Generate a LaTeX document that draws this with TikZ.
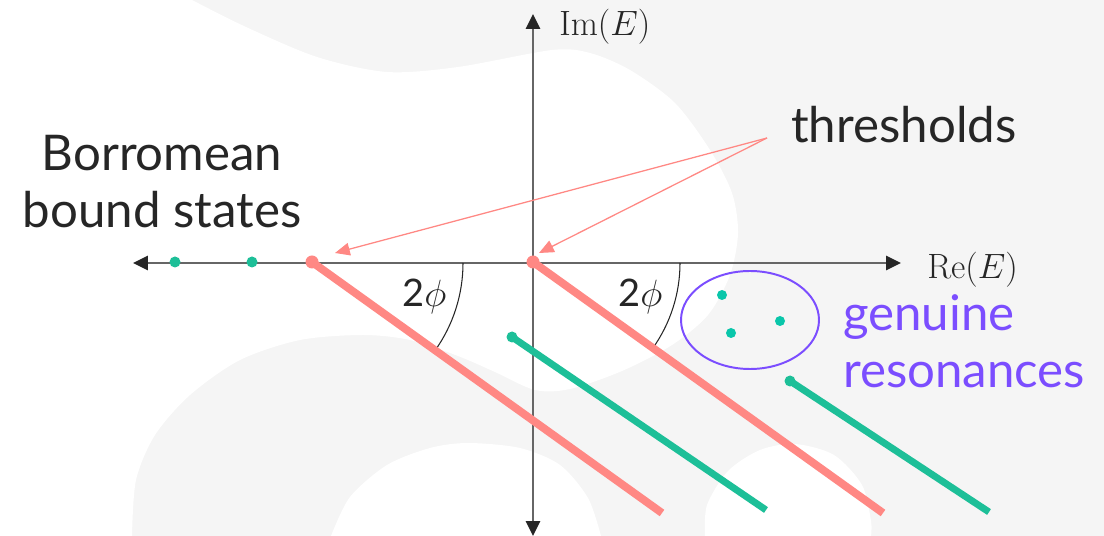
\documentclass[tikz,border=0pt]{standalone}
\usepackage{fix-cm}
\usepackage[no-math]{fontspec}
\setmainfont{Lato}
\usetikzlibrary{arrows.meta}

\definecolor{bggray}{HTML}{F5F5F5}
\definecolor{ink}{HTML}{262626}
\definecolor{axisgray}{HTML}{666666}
\definecolor{cutred}{HTML}{FF8884}
\definecolor{cutteal}{HTML}{1DBF98}
\definecolor{resdot}{HTML}{0AC6AA}
\definecolor{respurple}{HTML}{7B4DFF}

\tikzset{
  axis/.style={draw=axisgray, line width=1.4pt},
  redcut/.style={draw=cutred, line width=5.6pt},
  tealcut/.style={draw=cutteal, line width=4.9pt},
  thrarrow/.style={draw=cutred, line width=0.9pt, -{Triangle[length=10.5pt,width=9pt]}},
  txt/.style={inner sep=0pt, text=ink, font=\fontsize{35}{41}\selectfont},
  mathlab/.style={inner sep=0pt, text=ink, font=\fontsize{25}{30}\selectfont},
  anglab/.style={inner sep=0pt, text=ink, font=\fontsize{27}{32}\selectfont}
}

\begin{document}
\begin{tikzpicture}[x=0.025cm, y=-0.025cm,
  >={Triangle[length=10.5pt,width=10pt,color=ink]}]
  \useasboundingbox (0,0) rectangle (1104,536);
  % 背景
  \fill[bggray] (0,0) rectangle (1104,536);
  \fill[white] (0,0) -- plot[smooth] coordinates {(192,0) (246,27) (317,57) (387,72)
    (458,67) (552,50) (590,53) (630,70) (675,103) (710,150) (732,193) (738,233)
    (730,275) (708,315) (672,345) (622,371) (570,389) (535,390) (495,372) (458,356)
    (410,340) (363,335) (300,340) (240,360) (190,395) (155,435) (136,480) (132,536)}
    -- (0,536) -- cycle;
  \fill[white] plot[smooth] coordinates {(331,536) (350,497) (387,465) (430,448)
    (468,443) (520,448) (560,465) (588,498) (601,536)} -- cycle;
  \fill[white] plot[smooth] coordinates {(705,536) (707,505) (728,471) (760,450)
    (795,444) (834,455) (862,485) (871,521) (871,536)} -- cycle;

  % 軸
  \coordinate (reL) at (133,263);
  \coordinate (reR) at (901,263);
  \coordinate (imT) at (533,14);
  \coordinate (imB) at (533,536);
  \draw[axis,<->] (reL) -- (reR);
  \draw[axis,<->] (imB) -- (imT);
  \node[mathlab, anchor=west] (relab) at (927,270) {$\mathrm{Re}(E)$};
  \node[mathlab, anchor=west] (imlab) at (559,27) {$\mathrm{Im}(E)$};

  % 角度 2phi
  \coordinate (thL) at (312,262);
  \coordinate (thR) at (533,262);
  \draw[ink, line width=0.75pt] (463,263) arc[start angle=0, end angle=35.5, radius=151];
  \draw[ink, line width=0.75pt] (680,263) arc[start angle=0, end angle=35.5, radius=147];
  \node[anglab, anchor=base west] (angL) at (402,307) {2$\phi$};
  \node[anglab, anchor=base west] (angR) at (618,307) {2$\phi$};

  % 切断（赤）
  \draw[redcut] (thL) -- (662,513);
  \draw[redcut] (thR) -- (883,513);
  \fill[cutred] (thL) circle (6.5);
  \fill[cutred] (thR) circle (6.5);

  % 切断（緑）
  \draw[tealcut] (512,337) -- (766,510);
  \draw[tealcut] (790,381) -- (989,512);
  \fill[cutteal] (512,337) circle (5.5);
  \fill[cutteal] (790,381) circle (5.5);

  % 束縛状態
  \fill[cutteal] (175,262) circle (5.5);
  \fill[cutteal] (252,262) circle (5.5);
  \node[txt, align=center, anchor=base] (borro) at (162,228) {Borromean\\bound states};

  % 共鳴
  \draw[respurple, line width=1.4pt] (750,320) ellipse [x radius=69, y radius=49];
  \fill[resdot] (722,295) circle (5);
  \fill[resdot] (780,321) circle (5);
  \fill[resdot] (731,333) circle (5);
  \node[txt, text=respurple, align=left, anchor=base west] (genres) at (843,388)
    {genuine\\resonances};

  % しきい値
  \node[txt, anchor=base west] (thr) at (791,143) {thresholds};
  \coordinate (thrsrc) at (767,138);
  \coordinate (tipL) at (335,253);
  \coordinate (tipR) at (539,253);
  \draw[thrarrow] (thrsrc) -- (tipL);
  \draw[thrarrow] (thrsrc) -- (tipR);
\end{tikzpicture}
\end{document}
